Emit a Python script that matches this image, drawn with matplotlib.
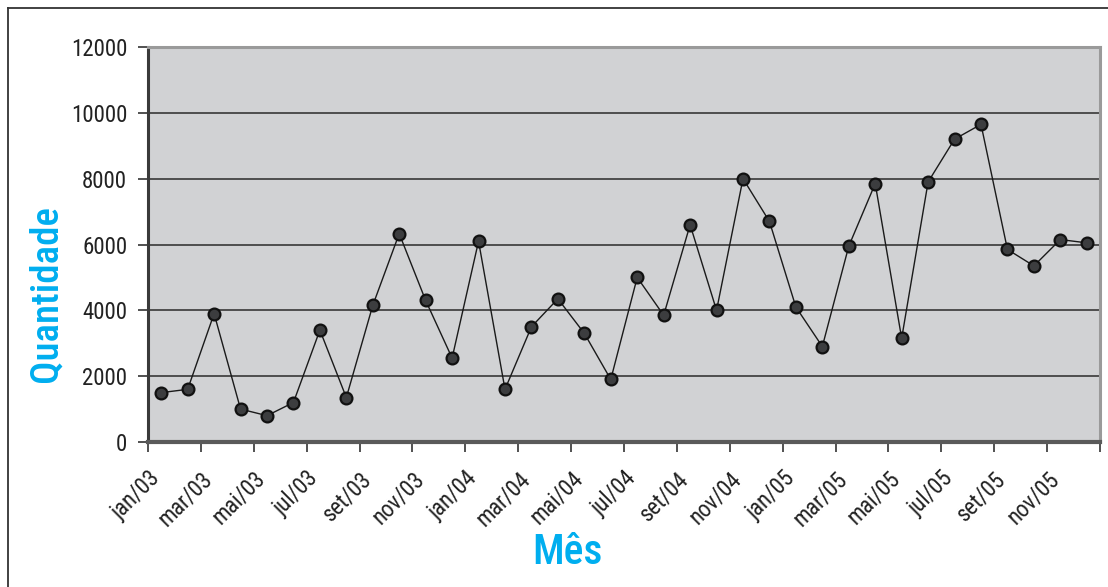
import matplotlib.pyplot as plt
import numpy as np
from matplotlib.lines import Line2D

plt.rcParams['font.family'] = ['Roboto Condensed', 'DejaVu Sans']

meses = ['jan', 'fev', 'mar', 'abr', 'mai', 'jun',
         'jul', 'ago', 'set', 'out', 'nov', 'dez']
anos = ['03', '04', '05']
rotulos = [m + '/' + a for a in anos for m in meses]

quantidade = [1500, 1600, 3900, 1000, 800, 1200, 3400, 1350, 4150, 6330, 4300, 2550,
              6100, 1600, 3500, 4350, 3300, 1900, 5000, 3850, 6600, 4000, 8000, 6700,
              4100, 2900, 5950, 7850, 3150, 7900, 9200, 9650, 5850, 5350, 6150, 6050]

fig = plt.figure(figsize=(11.08, 5.87), dpi=100)
ax = fig.add_axes([148 / 1108, 1 - 442 / 587, 952 / 1108, 395 / 587])
ax.set_facecolor('#d1d2d4')

x = np.arange(len(quantidade))
ax.plot(x, quantidade, color='#1a1a1a', lw=1.0, marker='o', ms=8.5,
        mfc='#3c3d3f', mec='#111111', mew=1.6, zorder=3)

ax.set_xlim(-0.5, len(quantidade) - 0.5)
ax.set_ylim(0, 12000)
ax.set_yticks(np.arange(0, 12001, 2000))
ax.yaxis.grid(True, color='#2a2a2a', lw=1.1)
ax.set_axisbelow(True)

# ticks between categories, a label every two months
ax.set_xticks(np.arange(-0.5, len(quantidade), 2))
ax.set_xticklabels(rotulos[::2] + [''], rotation=45, ha='right', va='top',
                   rotation_mode='anchor')

ax.tick_params(axis='both', direction='out', length=7, width=1.2,
               colors='#333333', labelcolor='#222222', labelsize=16.5)
ax.tick_params(axis='x', pad=11)
ax.tick_params(axis='y', pad=8)

ax.spines['left'].set_color('#3a3a3a')
ax.spines['left'].set_linewidth(2.2)
ax.spines['bottom'].set_color('#5a5a5a')
ax.spines['bottom'].set_linewidth(3)
for s in ['top', 'right']:
    ax.spines[s].set_color('#9a9a9a')
    ax.spines[s].set_linewidth(2.2)

fig.text(46 / 1108, 1 - 293 / 587, 'Quantidade', rotation=90, color='#00aeef',
         fontsize=28, fontweight='medium', ha='center', va='center')
fig.text(567 / 1108, 1 - 552 / 587, 'Mês', color='#00aeef',
         fontsize=30, fontweight='medium', ha='center', va='center')

# outer frame (left and top edges)
fig.add_artist(Line2D([8 / 1108, 8 / 1108], [0, 1 - 8 / 587],
                      transform=fig.transFigure, color='#333333', lw=1.3))
fig.add_artist(Line2D([8 / 1108, 1], [1 - 8 / 587, 1 - 8 / 587],
                      transform=fig.transFigure, color='#333333', lw=1.3))

fig.savefig('out.png', dpi=100)
